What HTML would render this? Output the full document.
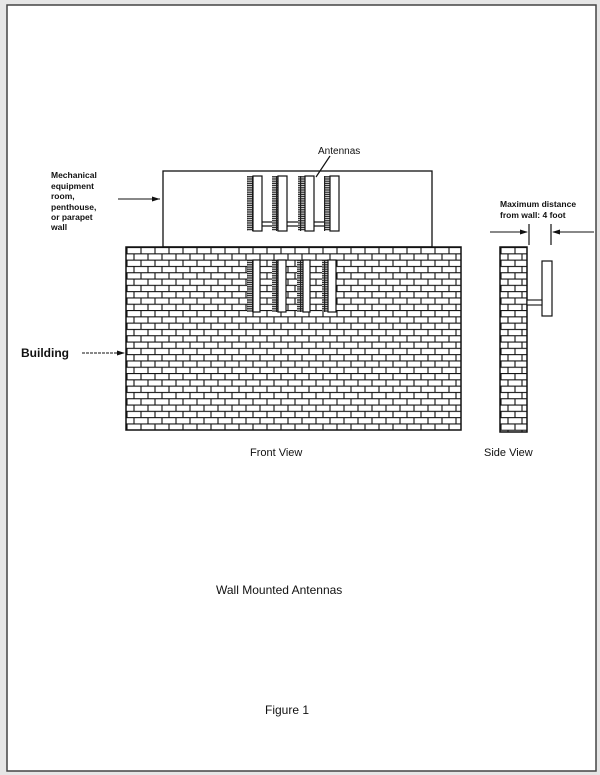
<!DOCTYPE html>
<html><head><meta charset="utf-8"><style>
html,body{margin:0;padding:0;background:#e6e6e6;}
svg{display:block;}
text{font-family:"Liberation Sans",sans-serif;fill:#111;}
</style></head><body>
<svg width="600" height="775" viewBox="0 0 600 775" xmlns="http://www.w3.org/2000/svg">
<defs>
<pattern id="brick" x="126" y="247" width="14" height="12.6" patternUnits="userSpaceOnUse">
<rect width="14" height="12.6" fill="#fff"/>
<path d="M0 0.5H14M0 6.8H14M1 0.5V6.8M8 6.8V12.6" stroke="#111" stroke-width="1.1" fill="none"/>
</pattern>
<pattern id="brick2" x="500" y="247" width="14" height="12.6" patternUnits="userSpaceOnUse">
<rect width="14" height="12.6" fill="#fff"/>
<path d="M0 0.5H14M0 6.8H14M1 0.5V6.8M8 6.8V12.6" stroke="#111" stroke-width="1.1" fill="none"/>
</pattern>
<pattern id="hatch" width="6" height="2.2" patternUnits="userSpaceOnUse">
<rect width="6" height="2.2" fill="#fff"/>
<path d="M0 0.8H6" stroke="#222" stroke-width="1.3"/>
<path d="M0.5 0V2.2" stroke="#222" stroke-width="1.4"/>
</pattern>
</defs>
<rect x="7" y="5" width="589" height="766" fill="#fff" stroke="#444" stroke-width="1.5"/>

<rect x="163" y="171" width="269" height="76" fill="#fff" stroke="#111" stroke-width="1.3"/>
<g stroke="#111" stroke-width="1.2">
<rect x="253" y="222" width="80" height="4" fill="#fff"/>
<rect x="247" y="176" width="6" height="55" fill="url(#hatch)" stroke="none"/>
<rect x="253" y="176" width="9" height="55" fill="#fff"/>
<rect x="272" y="176" width="6" height="55" fill="url(#hatch)" stroke="none"/>
<rect x="278" y="176" width="9" height="55" fill="#fff"/>
<rect x="298" y="176" width="7" height="55" fill="url(#hatch)" stroke="none"/>
<rect x="305" y="176" width="9" height="55" fill="#fff"/>
<rect x="324" y="176" width="6" height="55" fill="url(#hatch)" stroke="none"/>
<rect x="330" y="176" width="9" height="55" fill="#fff"/>
</g>

<rect x="126" y="247" width="335" height="183" fill="url(#brick)" stroke="#111" stroke-width="1.5"/>
<g stroke="#111" stroke-width="1.2">
<rect x="247" y="260" width="6" height="52" fill="url(#hatch)" stroke="none"/>
<rect x="253" y="260" width="7" height="52" fill="#fff"/>
<rect x="272" y="260" width="6" height="52" fill="url(#hatch)" stroke="none"/>
<rect x="278" y="260" width="8" height="52" fill="#fff"/>
<rect x="297" y="260" width="6" height="52" fill="url(#hatch)" stroke="none"/>
<rect x="303" y="260" width="7" height="52" fill="#fff"/>
<rect x="322" y="260" width="6" height="52" fill="url(#hatch)" stroke="none"/>
<rect x="328" y="260" width="8" height="52" fill="#fff"/>
</g>

<line x1="330" y1="156" x2="316" y2="177" stroke="#111" stroke-width="1.2"/>
<text x="318" y="154" font-size="10">Antennas</text>

<text font-size="8.5" font-weight="bold">
<tspan x="51" y="178">Mechanical</tspan>
<tspan x="51" y="189">equipment</tspan>
<tspan x="51" y="199">room,</tspan>
<tspan x="51" y="210">penthouse,</tspan>
<tspan x="51" y="220">or parapet</tspan>
<tspan x="51" y="230">wall</tspan>
</text>
<line x1="118" y1="199" x2="160" y2="199" stroke="#111" stroke-width="1"/>
<path d="M160 199l-8 -2.5v5z" fill="#111"/>

<text x="21" y="357" font-size="12" font-weight="bold">Building</text>
<line x1="82" y1="353" x2="124" y2="353" stroke="#111" stroke-width="1" stroke-dasharray="3,1"/>
<path d="M125 353l-8 -2.5v5z" fill="#111"/>

<text x="250" y="456" font-size="11">Front View</text>

<rect x="500" y="247" width="27" height="185" fill="url(#brick2)" stroke="#111" stroke-width="1.5"/>
<rect x="542" y="261" width="10" height="55" fill="#fff" stroke="#111" stroke-width="1.2"/>
<rect x="527" y="300" width="15" height="5" fill="#fff" stroke="#111" stroke-width="1.1"/>
<text font-size="8.5" font-weight="bold"><tspan x="500" y="207">Maximum distance</tspan><tspan x="500" y="218">from wall: 4 foot</tspan></text>
<line x1="529" y1="224" x2="529" y2="245" stroke="#111" stroke-width="1.2"/>
<line x1="551" y1="224" x2="551" y2="245" stroke="#111" stroke-width="1.2"/>
<line x1="490" y1="232" x2="527" y2="232" stroke="#111" stroke-width="1"/>
<path d="M528 232l-8 -2.5v5z" fill="#111"/>
<line x1="553" y1="232" x2="594" y2="232" stroke="#111" stroke-width="1"/>
<path d="M552 232l8 -2.5v5z" fill="#111"/>
<text x="484" y="456" font-size="11">Side View</text>

<text x="216" y="594" font-size="12">Wall Mounted Antennas</text>
<text x="265" y="714" font-size="12">Figure 1</text>
</svg>
</body></html>
